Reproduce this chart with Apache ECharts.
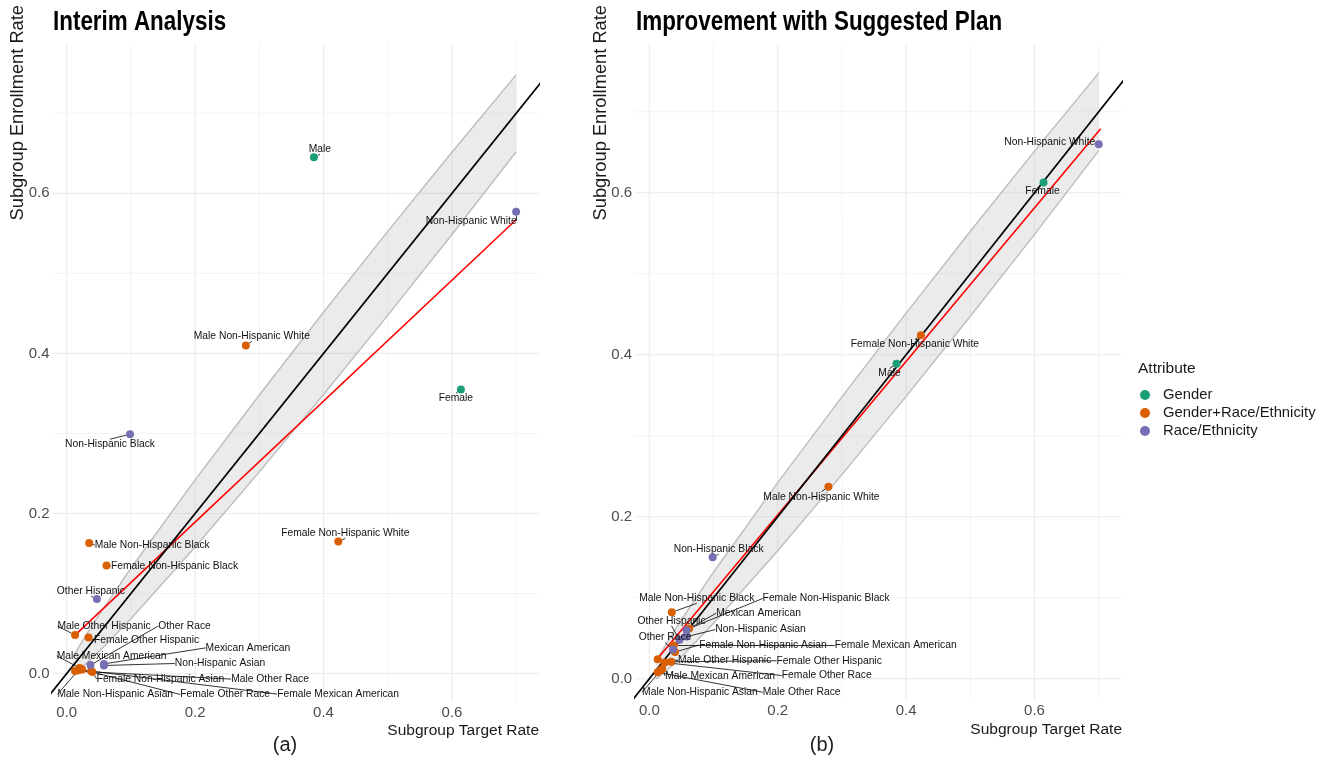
<!DOCTYPE html>
<html>
<head>
<meta charset="utf-8">
<script src="https://cdn.jsdelivr.net/npm/echarts@6/dist/echarts.min.js"></script>
<style>
html,body{margin:0;padding:0;background:#fff;}
#chart{width:1328px;height:757px;}
</style>
</head>
<body>
<div id="chart"></div>
<script>
// ---------------- DATA ----------------
const attributeLevels = ['Gender', 'Gender+Race/Ethnicity', 'Race/Ethnicity'];
const subgroupNames = ['Male','Female','Non-Hispanic White','Non-Hispanic Black','Other Hispanic','Mexican American','Non-Hispanic Asian','Other Race','Male Non-Hispanic White','Female Non-Hispanic White','Male Non-Hispanic Black','Female Non-Hispanic Black','Male Other Hispanic','Female Other Hispanic','Male Mexican American','Female Mexican American','Male Non-Hispanic Asian','Female Non-Hispanic Asian','Male Other Race','Female Other Race'];
const subgroupAttribute = ['Gender','Gender','Race/Ethnicity','Race/Ethnicity','Race/Ethnicity','Race/Ethnicity','Race/Ethnicity','Race/Ethnicity','Gender+Race/Ethnicity','Gender+Race/Ethnicity','Gender+Race/Ethnicity','Gender+Race/Ethnicity','Gender+Race/Ethnicity','Gender+Race/Ethnicity','Gender+Race/Ethnicity','Gender+Race/Ethnicity','Gender+Race/Ethnicity','Gender+Race/Ethnicity','Gender+Race/Ethnicity','Gender+Race/Ethnicity'];
const targetRate  = [0.385,0.614,0.700,0.0986,0.047,0.058,0.058,0.037,0.279,0.423,0.035,0.062,0.013,0.034,0.020,0.038,0.018,0.040,0.013,0.024];
const interimRate = [0.645,0.355,0.577,0.299,0.093,0.012,0.010,0.0105,0.410,0.165,0.163,0.135,0.048,0.045,0.007,0.003,0.004,0.002,0.003,0.005];
const planRate    = [0.389,0.6126,0.660,0.150,0.048,0.060,0.052,0.036,0.237,0.424,0.082,0.062,0.024,0.021,0.012,0.041,0.0105,0.033,0.008,0.020];

// acceptance band
const bandX     = [0.01, 0.02, 0.035, 0.05, 0.1, 0.2, 0.3, 0.4, 0.5, 0.6, 0.7];
const bandLower = [-0.0004, 0.0053, 0.0157, 0.0271, 0.0685, 0.158, 0.252, 0.3486, 0.4475, 0.5486, 0.652];
const bandUpper = [0.0204, 0.0347, 0.0543, 0.0729, 0.1315, 0.242, 0.348, 0.4514, 0.5525, 0.6514, 0.748];

// fitted (red) lines
const fitInterimX = [0.013, 0.700];
const fitInterimY = [0.048, 0.567];
const fitPlanX = [0.012, 0.703];
const fitPlanY = [0.024, 0.679];

// identity line and grid tick values
const identityEnds = [-0.1, 0.9];
const gridValues = [0, 0.1, 0.2, 0.3, 0.4, 0.5, 0.6, 0.7];

// ---------------- LAYOUT / STYLE ----------------
const colors = {'Gender':'#1B9E77','Gender+Race/Ethnicity':'#D95F02','Race/Ethnicity':'#7570B3'};
const FONT = '"Liberation Sans", Arial, sans-serif';

// label nudges in pixels (label centre relative to point), per panel
const nudgeInterim = {
 'Male':[6,-8],'Female':[-5,9],'Non-Hispanic White':[-45,9],'Non-Hispanic Black':[-20,10],
 'Other Hispanic':[-6,-8],'Mexican American':[144,-16],'Non-Hispanic Asian':[116,-2],'Other Race':[94,-39],
 'Male Non-Hispanic White':[6,-9],'Female Non-Hispanic White':[7,-8],'Male Non-Hispanic Black':[63,2],
 'Female Non-Hispanic Black':[68,1],'Male Other Hispanic':[29,-9],'Female Other Hispanic':[58,3],
 'Male Mexican American':[32,-12],'Female Mexican American':[247,23],'Male Non-Hispanic Asian':[37,24],
 'Female Non-Hispanic Asian':[68,7],'Male Other Race':[195,8],'Female Other Race':[143,25]
};
const nudgePlan = {
 'Male':[-7,10],'Female':[-1,9],'Non-Hispanic White':[-49,-2],'Non-Hispanic Black':[6,-8],
 'Other Hispanic':[-8,-19],'Mexican American':[72,-17],'Non-Hispanic Asian':[74,-7],'Other Race':[-8,-12],
 'Male Non-Hispanic White':[-7,10],'Female Non-Hispanic White':[-6,9],'Male Non-Hispanic Black':[25,-14],
 'Female Non-Hispanic Black':[137,-30],'Male Other Hispanic':[67,1],'Female Other Hispanic':[158,-1],
 'Male Mexican American':[58,7],'Female Mexican American':[222,0],'Male Non-Hispanic Asian':[39,22],
 'Female Non-Hispanic Asian':[88,-7],'Male Other Race':[144,20],'Female Other Race':[162,13]
};

const panels = [
  {grid:{left:52.6, top:44.5, width:486, height:657}, ymin:-0.035, ymax:0.786, rate:interimRate, fitX:fitInterimX, fitY:fitInterimY, nudge:nudgeInterim},
  {grid:{left:635.2, top:44.5, width:486, height:655.3}, ymin:-0.026, ymax:0.783, rate:planRate, fitX:fitPlanX, fitY:fitPlanY, nudge:nudgePlan}
];

function isMajor(v){ return Math.abs(v*5 - Math.round(v*5)) < 1e-6; }
function tickFmt(v){ return isMajor(v) ? v.toFixed(1) : ''; }

const grids = [], xAxes = [], yAxes = [], series = [];
panels.forEach((p, pi) => {
  grids.push(Object.assign({containLabel:false}, p.grid));
  xAxes.push({type:'value', gridIndex:pi, min:-0.022, max:0.735, splitNumber:4,
    axisLine:{show:false}, axisTick:{show:false}, splitLine:{show:false},
    axisLabel:{formatter:tickFmt, fontSize:15, color:'#4D4D4D', fontFamily:FONT, margin:4}});
  yAxes.push({type:'value', gridIndex:pi, min:p.ymin, max:p.ymax, splitNumber:4,
    axisLine:{show:false}, axisTick:{show:false}, splitLine:{show:false},
    axisLabel:{formatter:tickFmt, fontSize:15, color:'#4D4D4D', fontFamily:FONT, margin:3}});

  // grid lines (drawn through the axes' scales)
  series.push({type:'custom', xAxisIndex:pi, yAxisIndex:pi, z:0, silent:true, data:[[0,0]],
    renderItem:(params, api) => {
      const cs = params.coordSys;
      const kids = [];
      gridValues.forEach(v => {
        const px = api.coord([v, 0])[0];
        const py = api.coord([0, v])[1];
        const w = isMajor(v) ? 1.1 : 0.6;
        kids.push({type:'line', shape:{x1:px, y1:cs.y, x2:px, y2:cs.y+cs.height}, style:{stroke:'#EBEBEB', lineWidth:w}});
        kids.push({type:'line', shape:{x1:cs.x, y1:py, x2:cs.x+cs.width, y2:py}, style:{stroke:'#EBEBEB', lineWidth:w}});
      });
      return {type:'group', children:kids};
    }});

  // band
  series.push({type:'custom', xAxisIndex:pi, yAxisIndex:pi, z:1, silent:true,
    data:[[bandX[0], bandLower[0]]],
    renderItem:(params, api) => {
      const up = bandX.map((x,i) => api.coord([x, bandUpper[i]]));
      const lo = bandX.map((x,i) => api.coord([x, bandLower[i]]));
      return {type:'group', children:[
        {type:'polygon', shape:{points: up.concat(lo.slice().reverse())}, style:{fill:'rgba(190,190,190,0.30)', stroke:null}},
        {type:'polyline', shape:{points: up}, style:{stroke:'#BDBDBD', lineWidth:1.4, fill:null}},
        {type:'polyline', shape:{points: lo}, style:{stroke:'#BDBDBD', lineWidth:1.4, fill:null}}
      ]};
    }});

  // red fitted line
  series.push({type:'line', xAxisIndex:pi, yAxisIndex:pi, z:2, silent:true, showSymbol:false, symbol:'none',
    data: p.fitX.map((x,i) => [x, p.fitY[i]]), lineStyle:{color:'#FF0000', width:1.6}});
  // identity line
  series.push({type:'line', xAxisIndex:pi, yAxisIndex:pi, z:3, silent:true, showSymbol:false, symbol:'none', clip:true,
    data: identityEnds.map(v => [v, v]), lineStyle:{color:'#000000', width:1.8}});

  // points
  attributeLevels.forEach(att => {
    const data = [];
    subgroupNames.forEach((n, i) => {
      if (subgroupAttribute[i] === att) data.push({name:n, value:[targetRate[i], p.rate[i]]});
    });
    series.push({type:'scatter', name:att, xAxisIndex:pi, yAxisIndex:pi, z:5,
      symbolSize:8, itemStyle:{color:colors[att], opacity:1},
      data: data,
      label:{show:true, position:'inside', formatter:'{b}', fontSize:10.3, color:'#111', fontFamily:FONT, align:'center', verticalAlign:'middle'},
      labelLine:{show:true, lineStyle:{color:'#000', width:0.8}},
      labelLayout:(params) => { const o = p.nudge[params.text] || [0,0]; return {dx:o[0], dy:o[1], hideOverlap:false}; }
    });
  });
});

const chart = echarts.init(document.getElementById('chart'), null, {renderer:'canvas'});
chart.setOption({
  animation:false,
  backgroundColor:'#ffffff',
  legend:{data:attributeLevels, orient:'vertical', left:1140, top:386, padding:0, itemGap:0, itemWidth:10, itemHeight:10, icon:'circle',
    textStyle:{fontSize:14.8, fontFamily:FONT, color:'#1a1a1a', lineHeight:18, padding:[0,0,0,8]}},
  grid:grids, xAxis:xAxes, yAxis:yAxes, series:series,
  graphic:[
    {type:'text', x:53, y:23, scaleX:0.83, style:{text:'Interim Analysis', font:'bold 27px '+FONT, fill:'#000', textAlign:'left', textVerticalAlign:'middle'}},
    {type:'text', x:636, y:23, scaleX:0.83, style:{text:'Improvement with Suggested Plan', font:'bold 27px '+FONT, fill:'#000', textAlign:'left', textVerticalAlign:'middle'}},
    {type:'text', x:18, y:5, rotation:Math.PI/2, style:{text:'Subgroup Enrollment Rate', font:'18.3px '+FONT, fill:'#1a1a1a', textAlign:'right', textVerticalAlign:'middle'}},
    {type:'text', x:601, y:5, rotation:Math.PI/2, style:{text:'Subgroup Enrollment Rate', font:'18.3px '+FONT, fill:'#1a1a1a', textAlign:'right', textVerticalAlign:'middle'}},
    {type:'text', x:539, y:731, style:{text:'Subgroup Target Rate', font:'15.5px '+FONT, fill:'#1a1a1a', textAlign:'right', textVerticalAlign:'middle'}},
    {type:'text', x:1122, y:730, style:{text:'Subgroup Target Rate', font:'15.5px '+FONT, fill:'#1a1a1a', textAlign:'right', textVerticalAlign:'middle'}},
    {type:'text', x:1138, y:369, style:{text:'Attribute', font:'15.5px '+FONT, fill:'#1a1a1a', textAlign:'left', textVerticalAlign:'middle'}},
    {type:'text', x:285, y:745, style:{text:'(a)', font:'20px '+FONT, fill:'#222', textAlign:'center', textVerticalAlign:'middle'}},
    {type:'text', x:822, y:745, style:{text:'(b)', font:'20px '+FONT, fill:'#222', textAlign:'center', textVerticalAlign:'middle'}}
  ]
});
</script>
</body>
</html>
